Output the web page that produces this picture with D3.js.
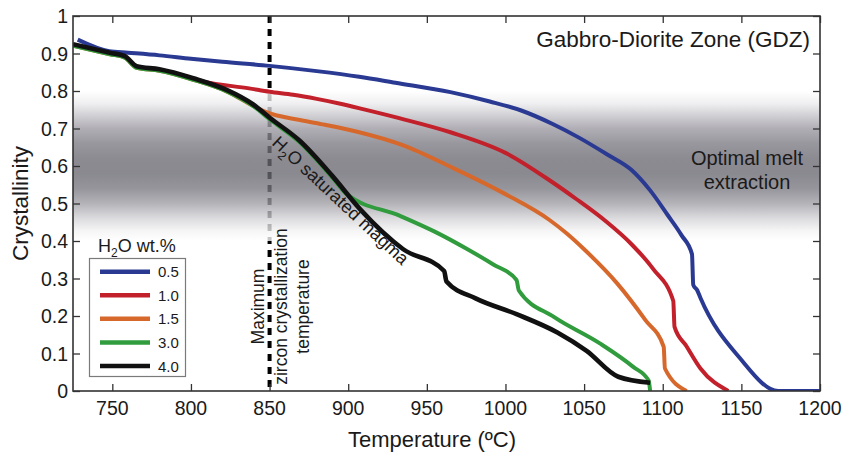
<!DOCTYPE html>
<html>
<head>
<meta charset="utf-8">
<script src="https://cdn.jsdelivr.net/npm/d3@7"></script>
<style>
  html, body { margin: 0; padding: 0; background: #ffffff; }
  svg { display: block; font-family: "Liberation Sans", Arial, Helvetica, sans-serif; }
</style>
</head>
<body>
<svg id="chart" width="845" height="457"></svg>
<script>
// ---------------- data ----------------
const seriesNames = ["0.5", "1.0", "1.5", "3.0", "4.0"];
const xTicks = [750, 800, 850, 900, 950, 1000, 1050, 1100, 1150, 1200];
const yTicks = [0, 0.1, 0.2, 0.3, 0.4, 0.5, 0.6, 0.7, 0.8, 0.9, 1];
const yTickLabels = ["0", "0.1", "0.2", "0.3", "0.4", "0.5", "0.6", "0.7", "0.8", "0.9", "1"];
const zirconTemp = 850;
const meltBand = [0.40, 0.80];

// [temperature, crystallinity]
const h2o_05 = [[728,0.937],[748,0.906],[760,0.902],[780,0.895],[800,0.886],[820,0.878],[850,0.867],[880,0.853],[907,0.838],[930,0.822],[965,0.797],[990,0.772],[1010,0.748],[1030,0.712],[1047,0.675],[1065,0.630],[1080,0.59],[1092,0.535],[1103,0.47],[1112,0.415],[1118.6,0.365],[1119.4,0.283],[1122,0.268],[1124,0.248],[1149,0.088],[1173.5,0],[1200,0]];
const h2o_10 = [[725,0.923],[748.5,0.900],[758,0.891],[765.5,0.864],[780,0.856],[801.5,0.832],[808,0.825],[837,0.807],[850,0.798],[865,0.79],[880,0.779],[895,0.766],[910,0.751],[933,0.727],[965,0.69],[1000,0.635],[1028,0.562],[1045,0.512],[1064,0.452],[1080,0.392],[1094,0.325],[1106.7,0.24],[1107.5,0.171],[1115,0.12],[1124,0.06],[1141.7,0]];
const h2o_15 = [[725,0.921],[748.5,0.898],[758,0.889],[765.5,0.862],[780,0.854],[801.5,0.830],[822.7,0.799],[839.6,0.760],[847,0.745],[870,0.722],[885,0.71],[905,0.692],[935,0.655],[965,0.598],[1000,0.525],[1028,0.456],[1039,0.42],[1050,0.378],[1071,0.287],[1089,0.189],[1100.6,0.118],[1101.4,0.06],[1115.2,0]];
const h2o_30 = [[725,0.921],[748.5,0.898],[758,0.889],[765.5,0.862],[780,0.854],[801.5,0.830],[822.7,0.799],[839.6,0.760],[850.3,0.724],[869,0.664],[890,0.569],[899,0.525],[933,0.467],[955,0.425],[975,0.38],[992,0.338],[1007,0.296],[1008.5,0.268],[1031,0.197],[1060,0.127],[1081,0.065],[1091,0.028],[1092,0]];
const h2o_40 = [[725,0.925],[748.5,0.902],[758,0.893],[765.5,0.866],[780,0.858],[801.5,0.834],[822.7,0.803],[839.6,0.764],[850.3,0.728],[869,0.668],[890,0.573],[907.5,0.485],[935,0.378],[961,0.32],[962.5,0.292],[981,0.247],[1007,0.205],[1033,0.156],[1051.6,0.107],[1071.7,0.038],[1092,0.022]];

const seriesData = [h2o_05, h2o_10, h2o_15, h2o_30, h2o_40];
const seriesColors = ["#2a3a92", "#c2202a", "#d7682c", "#309c3d", "#111111"];
const seriesWidths = [4, 4, 4, 4, 4.6];

// ---------------- layout ----------------
const svg = d3.select("#chart");
const L = 73, R = 820, T = 16, B = 391;
const x = d3.scaleLinear().domain([725, 1200]).range([L, R]);
const y = d3.scaleLinear().domain([0, 1]).range([B, T]);

const defs = svg.append("defs");
defs.append("clipPath").attr("id", "plotclip")
  .append("rect").attr("x", L).attr("y", T).attr("width", R - L).attr("height", B - T);

// band gradient (composite target colours over white, drawn with alpha so the dashed line shows through)
const alpha = 0.78;
const bandStops = [
  [0.00, 255, 255, 255], [0.08, 240, 240, 242], [0.16, 210, 209, 213], [0.25, 176, 175, 181],
  [0.35, 152, 151, 158], [0.45, 140, 139, 146], [0.55, 138, 137, 144], [0.65, 150, 149, 156],
  [0.75, 180, 179, 184], [0.85, 220, 220, 223], [0.93, 245, 245, 246], [1.00, 255, 255, 255]
];
const grad = defs.append("linearGradient").attr("id", "band")
  .attr("x1", 0).attr("y1", 0).attr("x2", 0).attr("y2", 1);
bandStops.forEach(s => {
  const pre = s.slice(1).map(v => Math.max(0, Math.round((v - 255 * (1 - alpha)) / alpha)));
  grad.append("stop").attr("offset", s[0]).attr("stop-color", `rgb(${pre[0]},${pre[1]},${pre[2]})`);
});

// dashed zircon line (under the band)
svg.append("line")
  .attr("x1", x(zirconTemp)).attr("x2", x(zirconTemp))
  .attr("y1", y(1)).attr("y2", y(0))
  .attr("stroke", "#000").attr("stroke-width", 4)
  .attr("stroke-dasharray", "7,6");

// band
svg.append("rect")
  .attr("x", L).attr("width", R - L)
  .attr("y", y(meltBand[1])).attr("height", y(meltBand[0]) - y(meltBand[1]))
  .attr("fill", "url(#band)").attr("fill-opacity", alpha);

// curves
const line = d3.line().x(d => x(d[0])).y(d => y(d[1])).curve(d3.curveMonotoneX);
const g = svg.append("g").attr("clip-path", "url(#plotclip)");
seriesData.forEach((d, i) => {
  g.append("path").datum(d).attr("d", line)
    .attr("fill", "none").attr("stroke", seriesColors[i])
    .attr("stroke-width", seriesWidths[i])
    .attr("stroke-linejoin", "round").attr("stroke-linecap", "butt");
});

// axes frame & ticks
const axisColor = "#333";
const frame = svg.append("g");
const tickLen = 7;
const xb = d3.axisBottom(x).tickValues(xTicks).tickSize(-tickLen).tickFormat("");
const xt = d3.axisTop(x).tickValues(xTicks).tickSize(-tickLen).tickFormat("");
const yl = d3.axisLeft(y).tickValues(yTicks).tickSize(-tickLen).tickFormat("");
const yr = d3.axisRight(y).tickValues(yTicks).tickSize(-tickLen).tickFormat("");
[[xb, `translate(0,${B})`], [xt, `translate(0,${T})`], [yl, `translate(${L},0)`], [yr, `translate(${R},0)`]]
  .forEach(([ax, tr]) => {
    const a = frame.append("g").attr("transform", tr).call(ax);
    a.select(".domain").remove();
    a.selectAll(".tick line").attr("stroke", axisColor).attr("stroke-width", 1.3);
  });
frame.append("rect").attr("x", L).attr("y", T).attr("width", R - L).attr("height", B - T)
  .attr("fill", "none").attr("stroke", axisColor).attr("stroke-width", 1.6);

// tick labels
svg.append("g").selectAll("text").data(xTicks).join("text")
  .attr("x", d => x(d)).attr("y", 415).attr("text-anchor", "middle")
  .attr("font-size", 19.5).attr("fill", "#1a1a1a").text(d => d);
svg.append("g").selectAll("text").data(yTicks).join("text")
  .attr("x", 68).attr("y", d => y(d) + 7).attr("text-anchor", "end")
  .attr("font-size", 19.5).attr("fill", "#1a1a1a").text((d, i) => yTickLabels[i]);

// axis titles
svg.append("text").attr("x", 432).attr("y", 447).attr("text-anchor", "middle")
  .attr("font-size", 22).attr("fill", "#1a1a1a").text("Temperature (ºC)");
svg.append("text").attr("transform", `translate(28,${(T + B) / 2}) rotate(-90)`)
  .attr("text-anchor", "middle").attr("font-size", 22.5).attr("fill", "#1a1a1a").text("Crystallinity");

// annotations
svg.append("text").attr("x", 810).attr("y", 47).attr("text-anchor", "end")
  .attr("font-size", 22.5).attr("fill", "#1a1a1a").text("Gabbro-Diorite Zone (GDZ)");
svg.append("text").attr("x", 747).attr("y", 165).attr("text-anchor", "middle")
  .attr("font-size", 20).attr("fill", "#1a1a1a").text("Optimal melt");
svg.append("text").attr("x", 747).attr("y", 189).attr("text-anchor", "middle")
  .attr("font-size", 20).attr("fill", "#1a1a1a").text("extraction");

const sat = svg.append("text").attr("transform", "translate(271,144) rotate(43)")
  .attr("font-size", 18).attr("fill", "#1a1a1a");
sat.append("tspan").text("H");
sat.append("tspan").attr("font-size", 12).attr("dy", 5).text("2");
sat.append("tspan").attr("dy", -5).text("O saturated magma");

const zLines = ["Maximum", "zircon crystallization", "temperature"];
const zX = [264, 286.5, 309];
zLines.forEach((t, i) => {
  svg.append("text").attr("transform", `translate(${zX[i]},306.5) rotate(-90)`)
    .attr("text-anchor", "middle").attr("font-size", 17.5).attr("fill", "#1a1a1a").text(t);
});

// legend
const lg = svg.append("g");
const lt = lg.append("text").attr("x", 98).attr("y", 252).attr("font-size", 18).attr("fill", "#1a1a1a");
lt.append("tspan").text("H");
lt.append("tspan").attr("font-size", 12).attr("dy", 5).text("2");
lt.append("tspan").attr("dy", -5).text("O wt.%");
lg.append("rect").attr("x", 89.5).attr("y", 258.5).attr("width", 96).attr("height", 118)
  .attr("fill", "#fff").attr("stroke", "#7a7a7a").attr("stroke-width", 1.2);
const ly = d3.scalePoint().domain(seriesNames).range([271.7, 366]);
seriesNames.forEach((n, i) => {
  lg.append("line").attr("x1", 100).attr("x2", 150).attr("y1", ly(n)).attr("y2", ly(n))
    .attr("stroke", seriesColors[i]).attr("stroke-width", 4.5);
  lg.append("text").attr("x", 158).attr("y", ly(n) + 5.5).attr("font-size", 15)
    .attr("fill", "#1a1a1a").text(n);
});
</script>
</body>
</html>
